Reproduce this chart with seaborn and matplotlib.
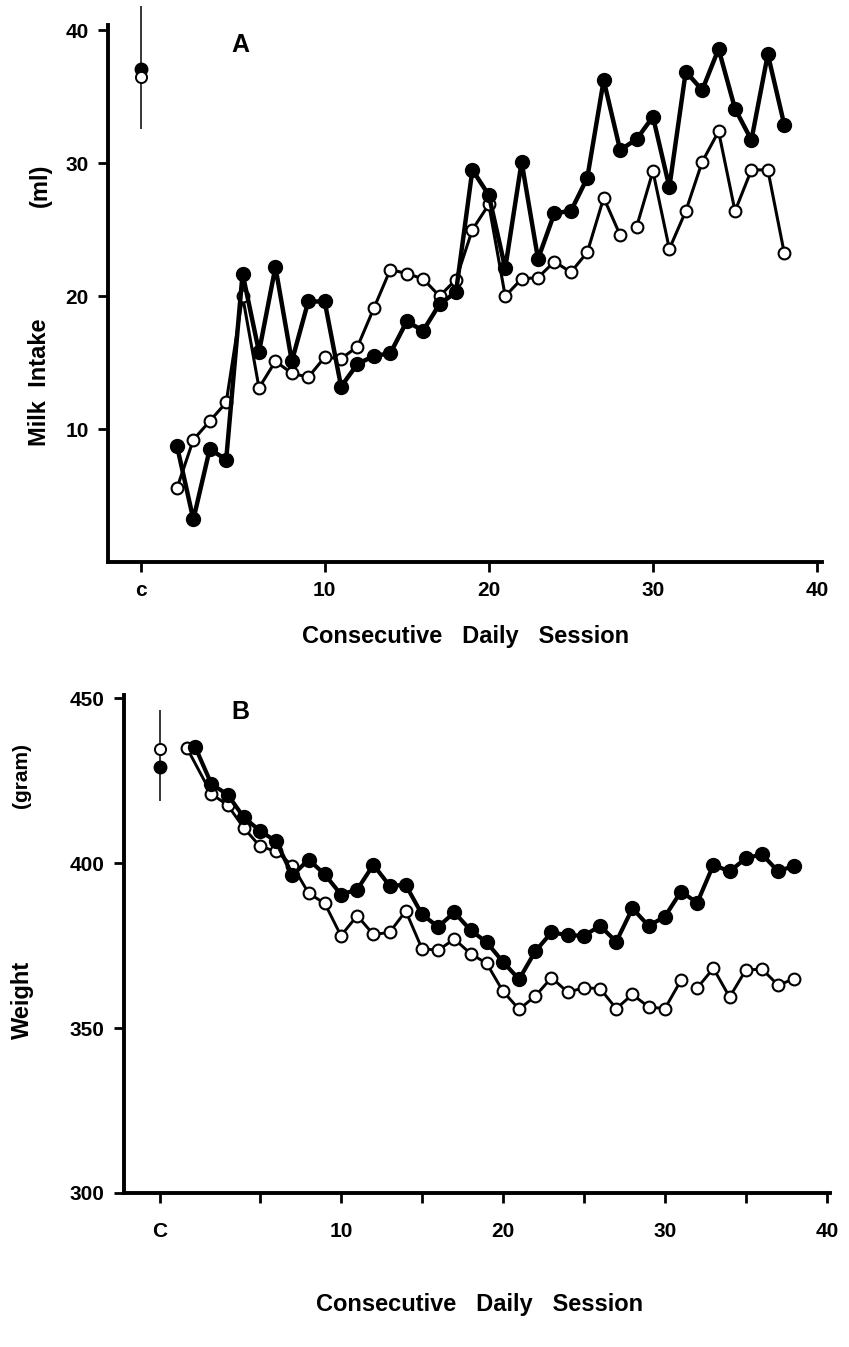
import pandas as pd
import matplotlib.pyplot as plt
import seaborn as sns

sns.set_style("ticks")
plt.rcParams["font.family"] = ["Liberation Sans", "DejaVu Sans"]
plt.rcParams["font.weight"] = "bold"
for key in ["text.color", "axes.labelcolor", "xtick.color", "ytick.color", "axes.edgecolor"]:
    plt.rcParams[key] = "black"

# ---- panel A: milk intake (ml) ----
sessions = list(range(1, 39))
milk_filled = [8.75, 3.2, 8.5, 7.7, 21.7, 15.8, 22.2, 15.1, 19.6, 19.6,
               13.2, 14.9, 15.5, 15.7, 18.1, 17.4, 19.4, 20.3, 29.5, 27.6,
               22.1, 30.1, 22.8, 26.25, 26.4, 28.9, 36.25, 31.0, 31.8, 33.5,
               28.2, 36.9, 35.5, 38.6, 34.1, 31.75, 38.2, 32.9]
milk_open = [5.55, 9.2, 10.6, 12.0, 20.0, 13.1, 15.1, 14.2, 13.9, 15.4,
             15.3, 16.2, 19.1, 22.0, 21.7, 21.3, 20.0, 21.25, 25.0, 26.9,
             20.0, 21.3, 21.4, 22.6, 21.8, 23.3, 27.4, 24.6, 25.2, 29.4,
             23.55, 26.4, 30.1, 32.4, 26.4, 29.5, 29.5, 23.25]
milk_open_seg = [0] * 28 + [1] * 10   # line is broken between 28 and 29

milk_c_filled = 37.1
milk_c_open = 36.5
milk_c_range = [32.6, 41.8]

# ---- panel B: body weight (gram) ----
weight_filled = [435.2, 424.0, 420.8, 413.9, 409.8, 406.6, 396.3, 401.1, 396.6, 390.5,
                 392.0, 399.5, 393.2, 393.4, 384.5, 380.7, 385.1, 379.7, 376.0, 370.1,
                 364.8, 373.3, 379.0, 378.2, 378.0, 381.0, 376.2, 386.3, 381.0, 383.8,
                 391.4, 388.0, 399.5, 397.5, 401.5, 402.7, 397.5, 399.3]
weight_open_sessions = [0.5] + list(range(2, 39))
weight_open = [434.8, 421.0, 417.6, 410.7, 405.1, 403.6, 399.3, 390.9, 387.8, 378.0,
               384.1, 378.4, 379.0, 385.5, 374.1, 373.6, 377.0, 372.6, 369.6, 361.2,
               355.7, 359.7, 365.3, 360.9, 362.2, 362.0, 355.9, 360.2, 356.4, 355.9,
               364.5, 362.2, 368.1, 359.4, 367.6, 367.9, 363.0, 365.0]
weight_open_seg = [0] * 31 + [1] * 7  # gap between 31 and 32

weight_c_filled = 429.3
weight_c_open = 434.7
weight_c_range = [419.0, 446.5]

C_POS = -1.2


def draw_series(ax, x, y, seg, filled, lw, ms):
    df = pd.DataFrame({"session": x, "value": y, "seg": seg})
    sns.lineplot(data=df, x="session", y="value", units="seg", estimator=None,
                 sort=False, ax=ax, color="black", lw=lw, marker="o", markersize=ms,
                 markerfacecolor="black" if filled else "white",
                 markeredgecolor="black", markeredgewidth=1.5, legend=False)


def draw_control(ax, rng, v_filled, v_open):
    ax.vlines(C_POS, rng[0], rng[1], color="black", lw=1.1, clip_on=False)
    ax.plot(C_POS, v_filled, "o", color="black", ms=9, clip_on=False)
    ax.plot(C_POS, v_open, "o", mfc="white", mec="black", mew=1.4, ms=8, clip_on=False)


def style_axes(ax):
    sns.despine(ax=ax)
    for s in ["left", "bottom"]:
        ax.spines[s].set_linewidth(2.8)
    ax.tick_params(width=2, length=7, labelsize=15, pad=7)
    ax.tick_params(which="minor", width=2, length=7)
    ax.set_xlabel("")
    ax.set_ylabel("")


fig = plt.figure(figsize=(8.49, 13.47), dpi=100)
W, H = 849, 1347

# panel A
axA = fig.add_axes([108 / W, 1 - 562 / H, (822 - 108) / W, (562 - 25) / H])
draw_series(axA, sessions, milk_open, milk_open_seg, False, 2.2, 8.5)
draw_series(axA, sessions, milk_filled, [0] * 38, True, 3.2, 9.5)
draw_control(axA, milk_c_range, milk_c_filled, milk_c_open)
axA.set_xlim(-3.2, 40.3)
axA.set_ylim(0, 40.4)
axA.set_yticks([10, 20, 30, 40])
axA.set_xticks([C_POS, 10, 20, 30, 40])
axA.set_xticklabels(["c", "10", "20", "30", "40"])
style_axes(axA)
axA.text(0.185, 0.962, "A", transform=axA.transAxes, fontsize=18,
         fontweight="bold", ha="center", va="center")
fig.text(466 / W, 1 - 637 / H, "Consecutive   Daily   Session", fontsize=17,
         fontweight="bold", ha="center", va="center")
fig.text(40 / W, 1 - 382 / H, "Milk  Intake", rotation=90, fontsize=17,
         fontweight="bold", ha="center", va="center")
fig.text(40 / W, 1 - 185 / H, "(ml)", rotation=90, fontsize=17,
         fontweight="bold", ha="center", va="center")

# panel B
axB = fig.add_axes([124 / W, 1 - 1193 / H, (830 - 124) / W, (1193 - 695) / H])
draw_series(axB, weight_open_sessions, weight_open, weight_open_seg, False, 2.1, 8.5)
draw_series(axB, sessions, weight_filled, [0] * 38, True, 3.0, 9.5)
draw_control(axB, weight_c_range, weight_c_filled, weight_c_open)
axB.set_xlim(-3.4, 40.2)
axB.set_ylim(300, 451)
axB.set_yticks([300, 350, 400, 450])
axB.set_xticks([C_POS, 10, 20, 30, 40])
axB.set_xticks([5, 15, 25, 35], minor=True)
axB.set_xticklabels(["C", "10", "20", "30", "40"])
style_axes(axB)
axB.tick_params(axis="x", pad=14)
axB.text(0.165, 0.965, "B", transform=axB.transAxes, fontsize=18,
         fontweight="bold", ha="center", va="center")
fig.text(480 / W, 1 - 1305 / H, "Consecutive   Daily   Session", fontsize=17,
         fontweight="bold", ha="center", va="center")
fig.text(22 / W, 1 - 1000 / H, "Weight", rotation=90, fontsize=17,
         fontweight="bold", ha="center", va="center")
fig.text(22 / W, 1 - 775 / H, "(gram)", rotation=90, fontsize=15,
         fontweight="bold", ha="center", va="center")

fig.savefig("out.png", dpi=100, facecolor="white")
